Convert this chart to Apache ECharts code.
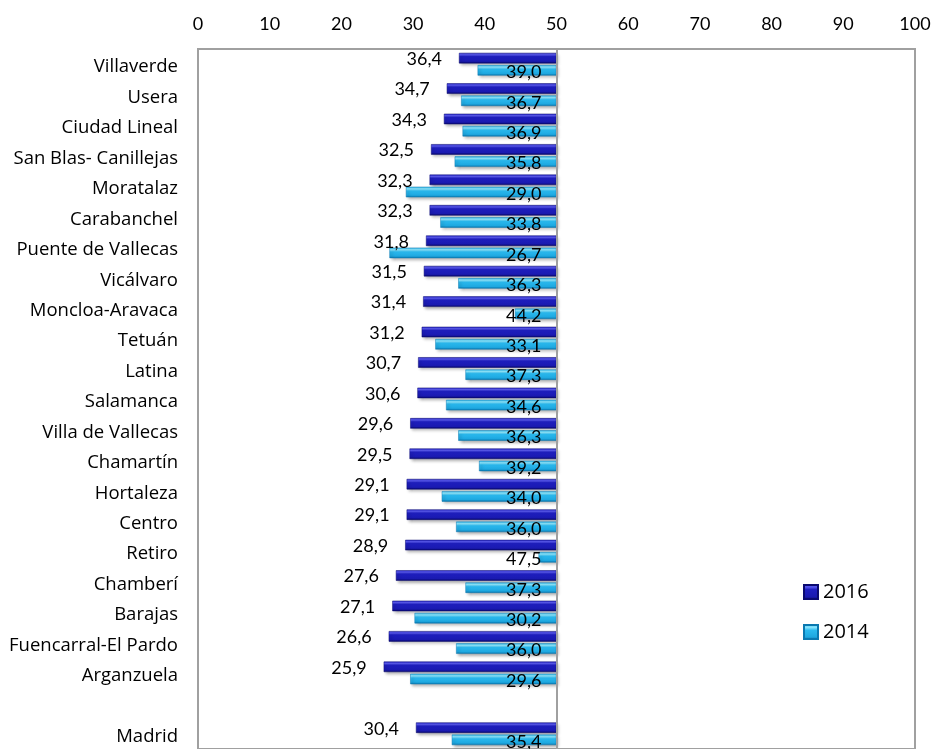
<!DOCTYPE html>
<html>
<head>
<meta charset="utf-8">
<script src="https://cdn.jsdelivr.net/npm/echarts@6/dist/echarts.min.js"></script>
<style>
html,body{margin:0;padding:0;background:#fff;}
#chart{width:935px;height:749px;}
</style>
</head>
<body>
<div id="chart"></div>
<script>
var categories = ['Villaverde','Usera','Ciudad Lineal','San Blas- Canillejas','Moratalaz','Carabanchel','Puente de Vallecas','Vicálvaro','Moncloa-Aravaca','Tetuán','Latina','Salamanca','Villa de Vallecas','Chamartín','Hortaleza','Centro','Retiro','Chamberí','Barajas','Fuencarral-El Pardo','Arganzuela','','Madrid'];
var values2016 = [36.4,34.7,34.3,32.5,32.3,32.3,31.8,31.5,31.4,31.2,30.7,30.6,29.6,29.5,29.1,29.1,28.9,27.6,27.1,26.6,25.9,null,30.4];
var values2014 = [39.0,36.7,36.9,35.8,29.0,33.8,26.7,36.3,44.2,33.1,37.3,34.6,36.3,39.2,34.0,36.0,47.5,37.3,30.2,36.0,29.6,null,35.4];
var xTicks = [0,10,20,30,40,50,60,70,80,90,100];
var baseline = 50;

function span(arr){ return arr.map(function(v){ return v == null ? null : +(baseline - v).toFixed(2); }); }
function fmt(v){ return v == null ? '' : v.toFixed(1).replace('.', ','); }

var FONT = 'Lato';
var CATFONT = 'Open Sans';
var grad2016 = new echarts.graphic.LinearGradient(0,0,0,1,[
  {offset:0,color:'#2a2acc'},{offset:0.18,color:'#5a5af0'},{offset:0.35,color:'#1f1fc0'},
  {offset:0.8,color:'#1a1ab0'},{offset:1,color:'#08086a'}]);
var grad2014 = new echarts.graphic.LinearGradient(0,0,0,1,[
  {offset:0,color:'#2fb8ea'},{offset:0.2,color:'#8fe8ff'},{offset:0.4,color:'#2ab9ee'},
  {offset:0.8,color:'#1ea8e0'},{offset:1,color:'#0a78b0'}]);
var shadow = {shadowColor:'rgba(0,0,0,0.35)',shadowBlur:3,shadowOffsetX:2,shadowOffsetY:2};

var chart = echarts.init(document.getElementById('chart'), null, {renderer:'canvas'});
chart.setOption({
  animation:false,
  backgroundColor:'#fff',
  textStyle:{fontFamily:FONT},
  grid:{left:198,right:20,top:49,height:704,show:true,borderColor:'#a0a0a0',borderWidth:2,backgroundColor:'transparent'},
  legend:{
    orient:'vertical',left:803,top:582,padding:0,itemWidth:14,itemHeight:14,itemGap:20,
    data:['2016','2014'],icon:'rect',
    textStyle:{fontFamily:CATFONT,fontSize:20,color:'#000'}
  },
  xAxis:{
    type:'value',position:'top',min:xTicks[0],max:xTicks[xTicks.length-1],interval:10,
    axisLine:{show:false},axisTick:{show:false},splitLine:{show:false},
    axisLabel:{fontFamily:FONT,fontSize:18,color:'#000',margin:16}
  },
  yAxis:{
    type:'category',inverse:true,data:categories,
    axisLine:{show:false},axisTick:{show:false},splitLine:{show:false},
    axisLabel:{color:'#000',margin:20,
      formatter:function(v){ return '{s| }\n{a|' + v + '}'; },
      rich:{
        s:{fontSize:1,height:6,lineHeight:6},
        a:{fontFamily:CATFONT,fontSize:18.5,lineHeight:20,color:'#000'}
      }}
  },
  series:[
    {name:'base2016',type:'bar',stack:'a',data:values2016,barWidth:10.5,barGap:'16%',silent:true,
     itemStyle:{color:'transparent'},emphasis:{disabled:true},
     markLine:{silent:true,symbol:'none',label:{show:false},lineStyle:{color:'#a0a0a0',width:2,type:'solid'},data:[{xAxis:baseline}]}},
    {name:'2016',type:'bar',stack:'a',data:span(values2016),barWidth:10.5,barGap:'16%',
     itemStyle:Object.assign({color:grad2016,borderColor:'#0a0a70',borderWidth:0.5},shadow),
     label:{show:true,position:'left',distance:17,offset:[0,1],fontFamily:FONT,fontSize:18,color:'#000',
       formatter:function(p){return fmt(values2016[p.dataIndex]);}}},
    {name:'base2014',type:'bar',stack:'b',data:values2014,barWidth:10.5,silent:true,
     itemStyle:{color:'transparent'},emphasis:{disabled:true}},
    {name:'2014',type:'bar',stack:'b',data:span(values2014),barWidth:10.5,
     itemStyle:Object.assign({color:grad2014,borderColor:'#0a78b0',borderWidth:0.5},shadow),
     label:{show:true,position:'insideRight',distance:15,offset:[0,2],fontFamily:FONT,fontSize:18,color:'#000',
       formatter:function(p){return fmt(values2014[p.dataIndex]);}}}
  ]
});
</script>
</body>
</html>
